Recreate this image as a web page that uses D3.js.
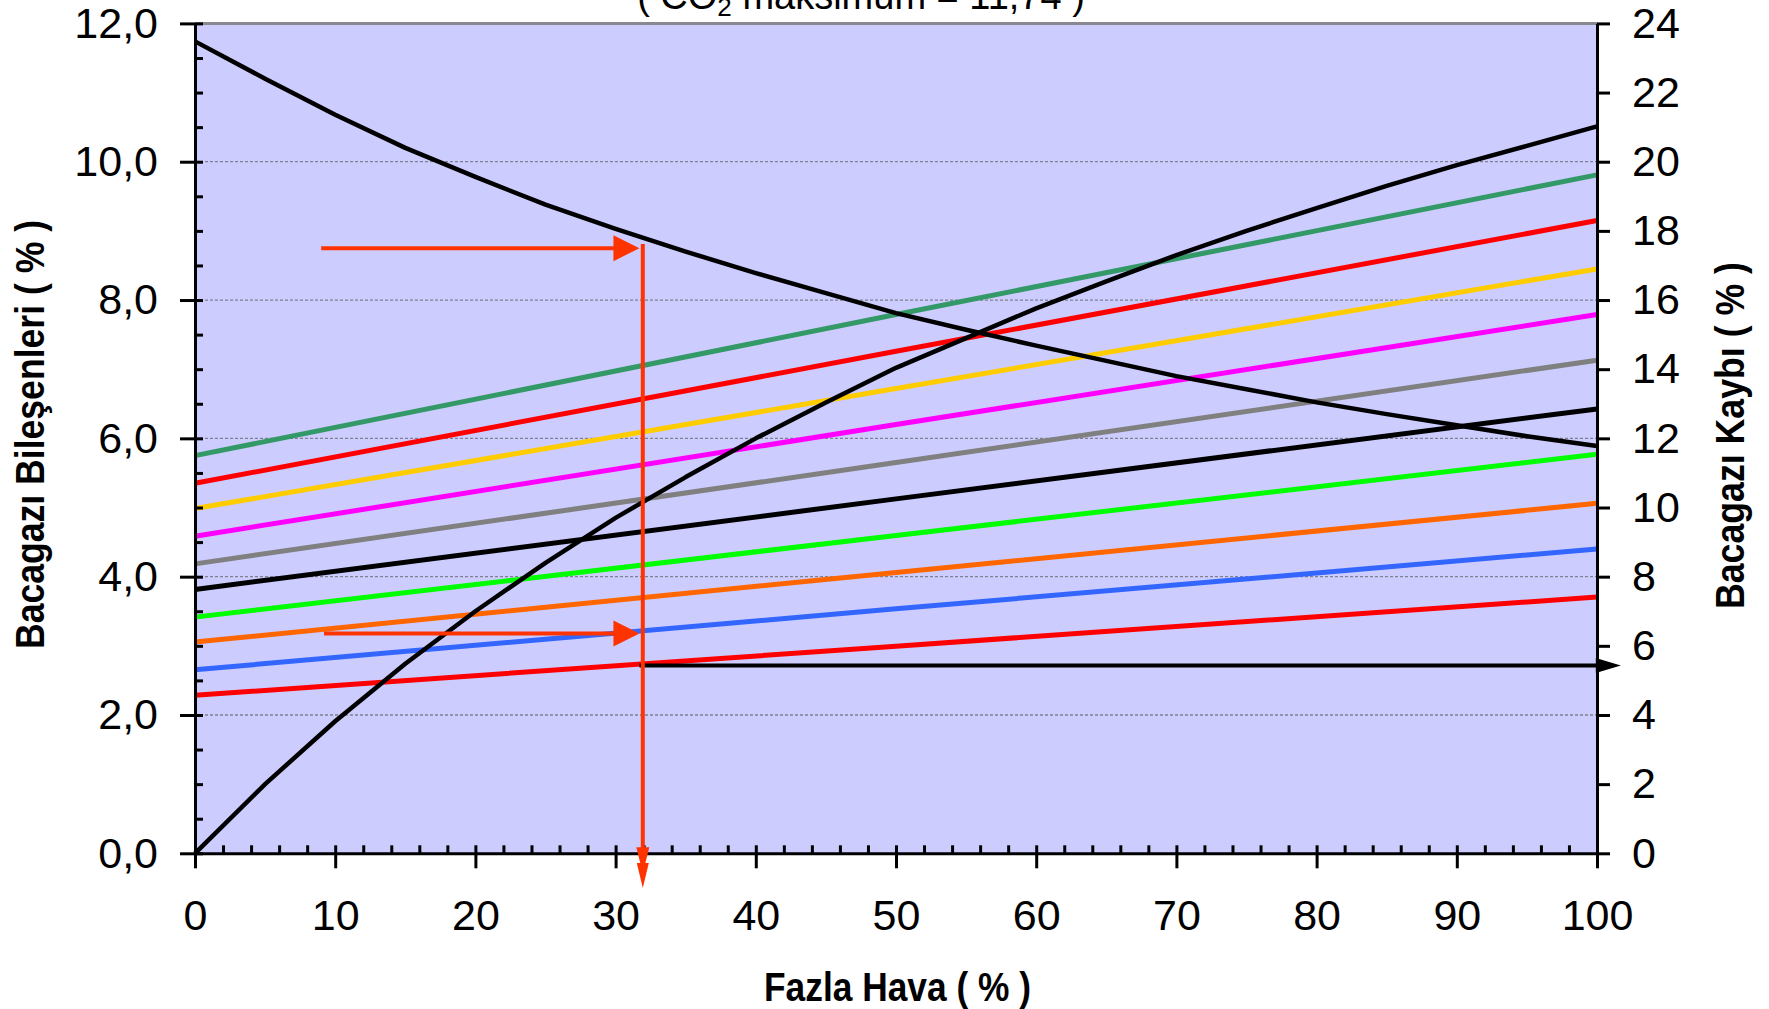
<!DOCTYPE html>
<html><head><meta charset="utf-8">
<script src="https://cdn.jsdelivr.net/npm/d3@7"></script>
<style>
html,body{margin:0;padding:0;background:#fff;}
svg{display:block;}
text{font-family:"Liberation Sans",Arial,sans-serif;}
</style></head>
<body>
<svg id="chart" width="1769" height="1009"></svg>
<script>
// ---- data ----
const excessAir = [0,5,10,15,20,25,30,35,40,45,50,55,60,65,70,75,80,85,90,95,100];
const co2Values = [11.74,11.20,10.68,10.20,9.78,9.38,9.03,8.70,8.39,8.10,7.81,7.57,7.34,7.12,6.90,6.71,6.52,6.35,6.19,6.03,5.89];
const o2Values  = [0,1.00,1.91,2.74,3.50,4.20,4.85,5.44,6.00,6.52,7.02,7.45,7.88,8.27,8.65,9.00,9.33,9.65,9.95,10.23,10.51];

const lossX = [0,50,100];
const lossColors = ["#339966","#FF0000","#FFCC00","#FF00FF","#808080","#000000","#00FF00","#FF6600","#3366FF","#FF0000"];
const lossSeries = [
  [11.50,15.58,19.62],
  [10.70,14.52,18.30],
  [9.97,13.44,16.90],
  [9.17,12.40,15.58],
  [8.37,11.30,14.26],
  [7.63,10.25,12.85],
  [6.83,9.19,11.54],
  [6.11,8.12,10.12],
  [5.31,7.07,8.80],
  [4.57,5.99,7.41]
];

const leftTicks = [0,2,4,6,8,10,12];
const rightTicks = [0,2,4,6,8,10,12,14,16,18,20,22,24];
const xTicks = [0,10,20,30,40,50,60,70,80,90,100];

// annotation arrows (data coordinates)
const redArrowsLeft = [{from:9.0, to:31.7, y:8.75}];          // left axis value
const redArrowsRight = [{from:9.2, to:31.7, y:6.36}];         // right axis value
const redVertical = {x:31.94, y1:8.81, yMid:-0.29, y2:-0.50}; // left axis values
const blackArrow = {from:31.7, to:101.7, y:5.43};             // right axis value

const titleText = "maksimum = 11,74 )";
const xTitle = "Fazla Hava ( % )";
const yLeftTitle = "Bacagazı Bileşenleri ( % )";
const yRightTitle = "Bacagazı Kaybı ( % )";

// ---- layout ----
const svg = d3.select("#chart");
const X0 = 195, X1 = 1597, YT = 23.4, YB = 853.3;
const x = d3.scaleLinear().domain([0,100]).range([X0,X1]);
const yL = d3.scaleLinear().domain([0,12]).range([YB,YT]);
const yR = d3.scaleLinear().domain([0,24]).range([YB,YT]);
const fmtL = v => d3.format(".1f")(v).replace(".", ",");

// background
svg.append("rect").attr("x",X0).attr("y",YT).attr("width",X1-X0).attr("height",YB-YT).attr("fill","#CCCCFF");

// gridlines
svg.append("g").selectAll("line").data(leftTicks.filter(d=>d>0 && d<12)).join("line")
  .attr("x1",X0).attr("x2",X1).attr("y1",d=>yL(d)).attr("y2",d=>yL(d))
  .attr("stroke","#7f7f8f").attr("stroke-width",1.3).attr("stroke-dasharray","3,2");
svg.append("line").attr("x1",X0).attr("x2",X1).attr("y1",yL(12)).attr("y2",yL(12))
  .attr("stroke","#888890").attr("stroke-width",3);

// loss lines (right axis)
const lineR = d3.line().x((d,i)=>x(lossX[i])).y(d=>yR(d));
svg.append("g").selectAll("path").data(lossSeries).join("path")
  .attr("d",d=>lineR(d)).attr("fill","none")
  .attr("stroke",(d,i)=>lossColors[i]).attr("stroke-width",5);

// CO2 and O2 curves (left axis)
const lineL = d3.line().x((d,i)=>x(excessAir[i])).y(d=>yL(d));
svg.append("path").attr("d",lineL(co2Values)).attr("fill","none").attr("stroke","#000").attr("stroke-width",4.5).attr("stroke-linejoin","round");
svg.append("path").attr("d",lineL(o2Values)).attr("fill","none").attr("stroke","#000").attr("stroke-width",4.5).attr("stroke-linejoin","round");

// ---- axes ----
function styleAxis(g){
  g.select(".domain").attr("stroke","#000").attr("stroke-width",3);
  g.selectAll(".tick line").attr("stroke","#000").attr("stroke-width",3);
  g.selectAll("text").attr("fill","#000").style("font-size","43px").style("font-family",'"Liberation Sans",Arial,sans-serif');
}
// left: minor inside
const leftMinor = d3.range(0,12.01,0.5);
svg.append("g").attr("transform",`translate(${X0},0)`)
  .call(d3.axisLeft(yL).tickValues(leftMinor).tickSize(-8).tickFormat(""))
  .call(g=>{g.select(".domain").remove(); g.selectAll(".tick line").attr("stroke","#000").attr("stroke-width",3);});
svg.append("g").attr("transform",`translate(${X0},0)`)
  .call(d3.axisLeft(yL).tickValues(leftTicks).tickSize(15).tickSizeOuter(0).tickPadding(22).tickFormat(fmtL))
  .call(styleAxis);
// right
svg.append("g").attr("transform",`translate(${X1},0)`)
  .call(d3.axisRight(yR).tickValues(rightTicks).tickSize(13).tickSizeOuter(0).tickPadding(22).tickFormat(d3.format("d")))
  .call(styleAxis);
// bottom: minor inside
const xMinor = d3.range(0,100.1,2);
svg.append("g").attr("transform",`translate(0,${YB})`)
  .call(d3.axisBottom(x).tickValues(xMinor).tickSize(-8).tickFormat(""))
  .call(g=>{g.select(".domain").remove(); g.selectAll(".tick line").attr("stroke","#000").attr("stroke-width",3);});
svg.append("g").attr("transform",`translate(0,${YB})`)
  .call(d3.axisBottom(x).tickValues(xTicks).tickSize(15).tickSizeOuter(0).tickPadding(31).tickFormat(d3.format("d")))
  .call(styleAxis);

// ---- arrows ----
const ARROW = "#FF3300";
function hArrow(x1,x2,y,color,len,half,w){
  svg.append("line").attr("x1",x1).attr("x2",x2-len+2).attr("y1",y).attr("y2",y).attr("stroke",color).attr("stroke-width",w);
  svg.append("path").attr("d",`M${x2},${y} L${x2-len},${y-half} L${x2-len},${y+half} Z`).attr("fill",color);
}
redArrowsLeft.forEach(a=>hArrow(x(a.from),x(a.to),yL(a.y),ARROW,26,13,4));
redArrowsRight.forEach(a=>hArrow(x(a.from),x(a.to),yR(a.y),ARROW,26,13,4));
// black arrow
svg.append("line").attr("x1",x(blackArrow.from)).attr("x2",x(blackArrow.to)-20).attr("y1",yR(blackArrow.y)).attr("y2",yR(blackArrow.y)).attr("stroke","#000").attr("stroke-width",4);
(function(){const tx=x(blackArrow.to), ty=yR(blackArrow.y);
  svg.append("path").attr("d",`M${tx},${ty} L${tx-25},${ty-7.5} L${tx-25},${ty+7.5} Z`).attr("fill","#000");})();
// vertical red
(function(){
  const vx=x(redVertical.x), ya=yL(redVertical.y1), ym=yL(redVertical.yMid), yb=yL(redVertical.y2);
  svg.append("line").attr("x1",vx).attr("x2",vx).attr("y1",ya).attr("y2",yb-20).attr("stroke",ARROW).attr("stroke-width",4);
  svg.append("path").attr("d",`M${vx},${ym} L${vx-6.5},${ym-26} L${vx+6.5},${ym-26} Z`).attr("fill",ARROW);
  svg.append("path").attr("d",`M${vx},${yb} L${vx-6},${yb-25} L${vx+6},${yb-25} Z`).attr("fill",ARROW);
})();

// ---- titles ----
const title = svg.append("text").attr("x",861).attr("y",9).attr("text-anchor","middle")
  .style("font-size","38px").attr("fill","#000");
title.append("tspan").text("( CO");
title.append("tspan").attr("dy",7).style("font-size","26px").text("2");
title.append("tspan").attr("dy",-7).text(" " + titleText);

svg.append("text").attr("x",897.5).attr("y",1001).attr("text-anchor","middle")
  .style("font-size","40px").style("font-weight","bold")
  .attr("textLength",267).attr("lengthAdjust","spacingAndGlyphs").text(xTitle);
svg.append("text").attr("transform","translate(44,434.5) rotate(-90)").attr("text-anchor","middle")
  .style("font-size","40px").style("font-weight","bold")
  .attr("textLength",429).attr("lengthAdjust","spacingAndGlyphs").text(yLeftTitle);
svg.append("text").attr("transform","translate(1744,435.5) rotate(-90)").attr("text-anchor","middle")
  .style("font-size","40px").style("font-weight","bold")
  .attr("textLength",347).attr("lengthAdjust","spacingAndGlyphs").text(yRightTitle);
</script>
</body></html>
